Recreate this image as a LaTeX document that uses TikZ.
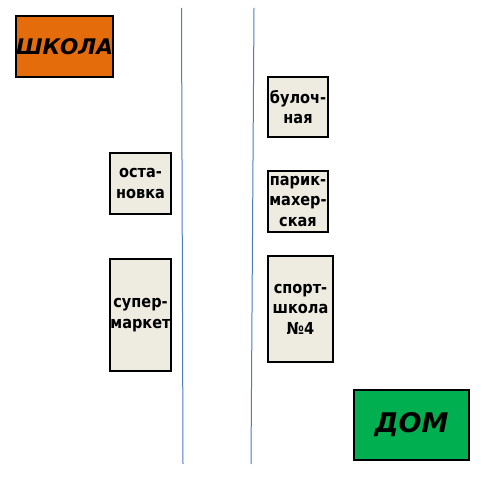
\documentclass[tikz,border=0pt]{standalone}
\usepackage{fontspec}
\setmainfont{DejaVu Sans}
\newfontfamily\placefont[FakeStretch=0.88]{DejaVu Sans}
\definecolor{schoolorange}{HTML}{E46C0A}
\definecolor{homegreen}{HTML}{00B050}
\definecolor{shopfill}{HTML}{EEECE1}
\definecolor{roadblue}{HTML}{4A7EBB}
\begin{document}
\begin{tikzpicture}[x=1pt,y=1pt,
  place/.style={draw=black,line width=1.8pt,fill=shopfill,inner sep=0pt,align=center,
    font=\placefont\fontsize{16.5}{20.5}\selectfont\bfseries},
  bigplace/.style={draw=black,line width=1.8pt,inner sep=0pt,font=\bfseries\itshape},
  road/.style={draw=roadblue,line width=1pt}]
\useasboundingbox (0,0) rectangle (492,500);
\node[bigplace,fill=schoolorange,minimum width=97pt,minimum height=61pt,font=\fontsize{21.5}{24}\selectfont\bfseries\itshape] (school) at (64.5,453.5) {ШКОЛА};
\node[place,minimum width=61pt,minimum height=61pt] (stop) at (140.5,316.5) {оста-\\новка};
\node[place,minimum width=61pt,minimum height=112pt] (market) at (140.5,185) {супер-\\маркет};
\node[place,minimum width=60pt,minimum height=60pt] (bakery) at (298,393) {булоч-\\ная};
\node[place,minimum width=60pt,minimum height=61pt] (barber) at (298,298.5) {парик-\\махер-\\ская};
\node[place,minimum width=65pt,minimum height=106pt] (sport) at (300.5,191) {спорт-\\школа\\№4};
\node[bigplace,fill=homegreen,minimum width=115pt,minimum height=70pt,font=\fontsize{27}{32}\selectfont\bfseries\itshape] (home) at (411.5,75) {ДОМ};
\coordinate (l1) at (181.5,492);
\coordinate (l2) at (183,36);
\coordinate (r1) at (254,492);
\coordinate (r2) at (251,36);
\draw[road] (l1) -- (l2);
\draw[road] (r1) -- (r2);
\end{tikzpicture}
\end{document}
